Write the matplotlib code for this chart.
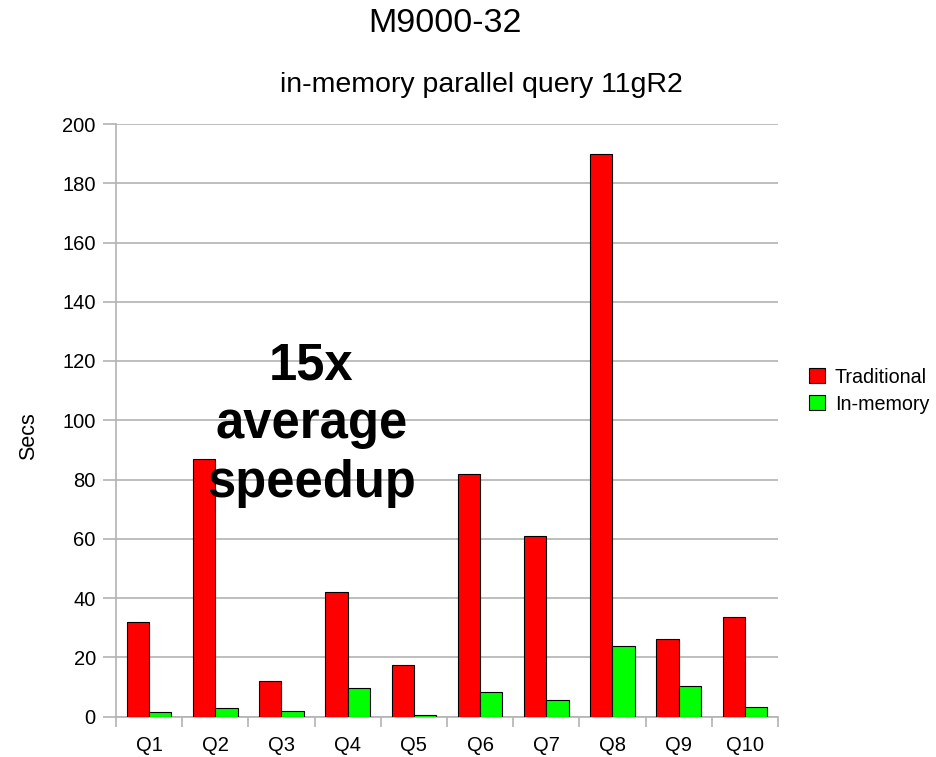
import matplotlib as mpl

mpl.use("Agg")

import matplotlib.pyplot as plt
import numpy as np

plt.rcParams["font.family"] = ["Liberation Sans", "DejaVu Sans"]

queries = ["Q1", "Q2", "Q3", "Q4", "Q5", "Q6", "Q7", "Q8", "Q9", "Q10"]
traditional = [31.8, 87, 12.1, 42, 17.5, 82, 61, 190, 26.1, 33.6]
in_memory = [1.4, 2.8, 1.7, 9.5, 0.5, 8.2, 5.6, 23.9, 10.2, 3.1]
y_ticks = [0, 20, 40, 60, 80, 100, 120, 140, 160, 180, 200]

GRID = "#b3b3b3"

fig = plt.figure(figsize=(9.37, 7.57), dpi=100)
ax = fig.add_axes([116 / 937, 1 - 716.5 / 757, (778 - 116) / 937, (716.5 - 124) / 757])

x = np.arange(len(queries))
w = 0.336
ax.bar(x - w / 2, traditional, w, color="#ff0000", edgecolor="black", linewidth=0.8, label="Traditional", zorder=3)
ax.bar(x + w / 2, in_memory, w, color="#00ff00", edgecolor="black", linewidth=0.8, label="In-memory", zorder=3)

ax.set_xlim(-0.5, len(queries) - 0.5)
ax.set_ylim(0, 200)
ax.set_yticks(y_ticks)
ax.set_xticks(x)
ax.set_xticklabels(queries)
ax.set_xticks(np.arange(len(queries) + 1) - 0.5, minor=True)
ax.tick_params(axis="x", which="major", length=0, pad=14, labelsize=14.5)
ax.tick_params(axis="x", which="minor", length=7.5, color=GRID, width=1.2)
ax.tick_params(axis="y", length=9.5, color=GRID, width=1.2, labelsize=14.5, pad=5)
ax.grid(axis="y", color=GRID, linewidth=1.2, zorder=0)
for side in ["top", "right"]:
    ax.spines[side].set_visible(False)
for side in ["left", "bottom"]:
    ax.spines[side].set_color(GRID)
    ax.spines[side].set_linewidth(1.2)

fig.text(29 / 937, 1 - 436 / 757, "Secs", rotation=90, ha="center", va="center", fontsize=15.5)

fig.text(445 / 937, 1 - 24 / 757, "M9000-32", ha="center", va="center", fontsize=24.5)
fig.text(481 / 937, 1 - 85 / 757, "in-memory parallel query 11gR2", ha="center", va="center", fontsize=20.5)

ax.text(2.45, 98.5, "15x\naverage\nspeedup", ha="center", va="center", fontsize=36.5,
        fontweight="bold", linespacing=1.25, zorder=4)

ax.legend(loc="center left", bbox_to_anchor=(1.035, 0.55), frameon=False, fontsize=14.2,
          handlelength=0.8, handleheight=0.8, handletextpad=0.5, labelspacing=0.4,
          borderaxespad=0)

fig.savefig("out.png", dpi=100)
